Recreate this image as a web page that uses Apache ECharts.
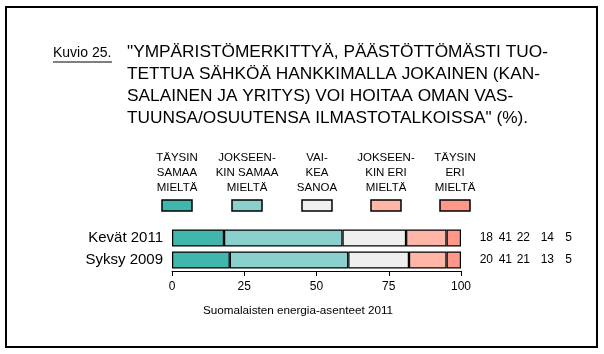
<!DOCTYPE html>
<html>
<head>
<meta charset="utf-8">
<script src="https://cdn.jsdelivr.net/npm/echarts@6/dist/echarts.min.js"></script>
<style>
  html, body { margin: 0; padding: 0; background: #fff; }
  #chart { width: 604px; height: 354px; }
</style>
</head>
<body>
<div id="chart"></div>
<script>
const categories = ["Kevät 2011", "Syksy 2009"];
const seriesNames = [
  "TÄYSIN\nSAMAA\nMIELTÄ",
  "JOKSEEN-\nKIN SAMAA\nMIELTÄ",
  "VAI-\nKEA\nSANOA",
  "JOKSEEN-\nKIN ERI\nMIELTÄ",
  "TÄYSIN\nERI\nMIELTÄ",
];
const taysinSamaa = [18, 20];
const jokseenkinSamaa = [41, 41];
const vaikeaSanoa = [22, 21];
const jokseenkinEri = [14, 13];
const taysinEri = [5, 5];
const xTicks = [0, 25, 50, 75, 100];

const seriesValues = [taysinSamaa, jokseenkinSamaa, vaikeaSanoa, jokseenkinEri, taysinEri];

const colors = ["#41b6ac", "#8ad1cd", "#efefef", "#ffb6a6", "#ff9888"];
const font = '"Liberation Sans", Arial, sans-serif';
const legendX = [177, 247, 317, 386, 455];
const numColWidths = [16, 19, 18, 24, 18];

const chart = echarts.init(document.getElementById("chart"), null, { renderer: "canvas" });

const legendGraphics = [];
seriesNames.forEach((name, i) => {
  legendGraphics.push({
    type: "text",
    style: {
      text: name,
      x: legendX[i],
      y: 150,
      align: "center",
      verticalAlign: "top",
      font: "11.5px " + font,
      lineHeight: 15,
      fill: "#000",
    },
  });
  legendGraphics.push({
    type: "rect",
    shape: { x: legendX[i] - 15, y: 200, width: 30, height: 11 },
    style: { fill: colors[i], stroke: "#000", lineWidth: 1.5 },
  });
});

const rich = {};
numColWidths.forEach((w, k) => {
  rich["c" + k] = { width: w, align: "right", fontSize: 12, fontFamily: font, color: "#000" };
});

const options = {
  animation: false,
  title: [
    {
      text: "Kuvio 25.",
      left: 53,
      top: 42,
      padding: 0,
      textStyle: { fontSize: 14, fontWeight: "normal", fontFamily: font, color: "#000", lineHeight: 22 },
    },
    {
      text:
        '"YMPÄRISTÖMERKITTYÄ, PÄÄSTÖTTÖMÄSTI TUO-\nTETTUA SÄHKÖÄ HANKKIMALLA JOKAINEN (KAN-\nSALAINEN JA YRITYS) VOI HOITAA OMAN VAS-\nTUUNSA/OSUUTENSA ILMASTOTALKOISSA" (%).',
      left: 127,
      top: 41,
      padding: 0,
      textStyle: { fontSize: 17.3, fontWeight: "normal", fontFamily: font, color: "#000", lineHeight: 22 },
    },
    {
      text: "Suomalaisten energia-asenteet 2011",
      left: 298,
      top: 305,
      textAlign: "center",
      padding: 0,
      textStyle: { fontSize: 11.7, fontWeight: "normal", fontFamily: font, color: "#000" },
    },
  ],
  graphic: [
    {
      type: "rect",
      shape: { x: 6, y: 7, width: 591, height: 340 },
      style: { fill: null, stroke: "#000", lineWidth: 2 },
    },
    {
      type: "line",
      shape: { x1: 53, y1: 62, x2: 112, y2: 62 },
      style: { stroke: "#000", lineWidth: 1 },
    },
    ...legendGraphics,
  ],
  grid: { left: 172, right: 143, top: 227, height: 44, containLabel: false },
  xAxis: {
    type: "value",
    min: xTicks[0],
    max: xTicks[xTicks.length - 1],
    interval: xTicks[1] - xTicks[0],
    axisLine: { show: true, lineStyle: { color: "#000", width: 1 } },
    axisTick: { show: true, length: 5, lineStyle: { color: "#000", width: 1 } },
    axisLabel: { margin: 10, fontSize: 12, fontFamily: font, color: "#000" },
    splitLine: { show: false },
  },
  yAxis: [
    {
      type: "category",
      data: categories,
      inverse: true,
      axisLine: { show: false },
      axisTick: { show: false },
      axisLabel: { margin: 9, fontSize: 15, fontFamily: font, color: "#000" },
    },
    {
      type: "category",
      data: categories,
      inverse: true,
      position: "right",
      axisLine: { show: false },
      axisTick: { show: false },
      axisLabel: {
        margin: 16,
        align: "left",
        formatter: (value, index) =>
          seriesValues.map((arr, k) => "{c" + k + "|" + arr[index] + "}").join(""),
        rich: rich,
      },
    },
  ],
  series: seriesValues.map((vals, i) => ({
    name: seriesNames[i],
    type: "bar",
    stack: "total",
    barWidth: 17,
    data: vals,
    itemStyle: { color: colors[i], borderColor: "#000", borderWidth: 1.2 },
  })),
};

chart.setOption(options);
</script>
</body>
</html>
